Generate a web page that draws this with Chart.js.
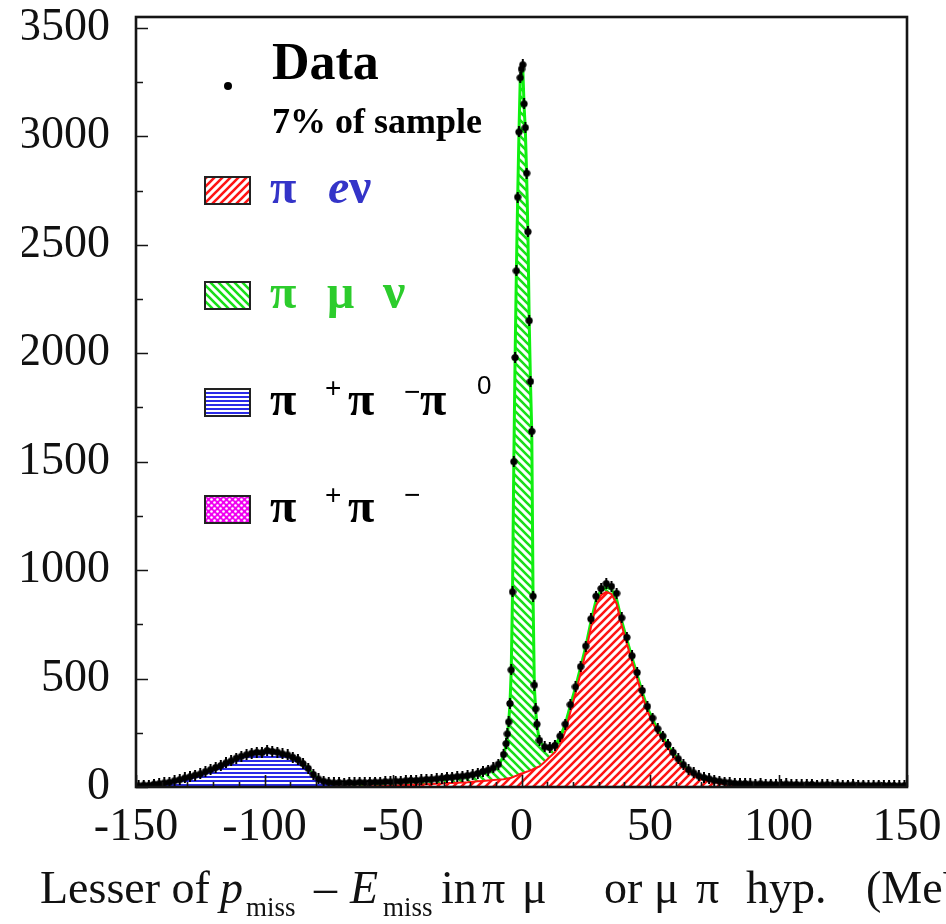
<!DOCTYPE html>
<html>
<head>
<meta charset="utf-8">
<script src="https://cdn.jsdelivr.net/npm/chart.js@4.4.1/dist/chart.umd.min.js"></script>
<style>
  html, body { margin: 0; padding: 0; background: #ffffff; }
  #wrap { width: 946px; height: 924px; }
</style>
</head>
<body>
<div id="wrap"><canvas id="chart" width="946" height="924"></canvas></div>
<script>
// Bin centres (MeV): 2 MeV bins on both sides, 0.5 MeV bins across the narrow peak.
const binsLeft = [
  -149,-147,-145,-143,-141,-139,-137,-135,-133,-131,
  -129,-127,-125,-123,-121,-119,-117,-115,-113,-111,
  -109,-107,-105,-103,-101,-99,-97,-95,-93,-91,
  -89,-87,-85,-83,-81,-79,-77,-75,-73,-71,
  -69,-67,-65,-63,-61,-59,-57,-55,-53,-51,
  -49,-47,-45,-43,-41,-39,-37,-35,-33,-31,
  -29,-27,-25,-23,-21,-19,-17,-15,-13,-11,
  -9,-7
];
const binsPeak = [
  -6,-5.5,-5,-4.5,-4,-3.5,-3,-2.5,-2,-1.5,
  -1,-0.5,0,0.5,1,1.5,2,2.5,3,3.5,
  4,4.5,5,5.5,6
];
const binsRight = [
  7,9,11,13,15,17,19,21,23,25,
  27,29,31,33,35,37,39,41,43,45,
  47,49,51,53,55,57,59,61,63,65,
  67,69,71,73,75,77,79,81,83,85,
  87,89,91,93,95,97,99,101,103,105,
  107,109,111,113,115,117,119,121,123,125,
  127,129,131,133,135,137,139,141,143,145,
  147,149
];
const binCenters = binsLeft.concat(binsPeak, binsRight);

// Observed events per bin
const dataCounts = [
  6,9,8,13,15,19,22,29,34,42,
  47,55,60,71,80,90,99,111,120,133,
  142,149,156,160,158,168,164,161,153,148,
  137,126,108,86,58,37,27,22,19,20,
  18,21,19,22,20,21,23,22,25,24,
  27,26,29,31,30,33,35,36,38,41,
  44,45,48,50,53,57,63,72,78,88,
  105,150,
  200,245,300,385,540,900,1500,1980,2380,2720,
  3020,3270,3310,3330,3150,3040,2830,2560,2150,1870,
  1640,880,470,360,290,
  215,185,182,192,235,290,380,462,555,650,
  775,880,915,938,925,893,780,690,605,528,
  445,372,318,268,235,196,160,130,103,80,
  65,51,43,38,31,27,23,20,17,15,
  16,14,13,15,12,13,11,12,14,11,
  12,10,11,12,9,10,11,9,10,8,
  9,10,8,9,7,8,9,7,8,7,
  6,7
];

// Simulated components, stacked bottom to top
const pipipi0 = [
  3,5,6,8,10,13,16,20,25,31,
  36,43,50,59,68,78,88,99,110,121,
  131,139,145,150,153,155,154,151,145,138,
  128,115,98,75,48,26,14,8,5,3,
  2,2,1,1,1,1,0,0,0,0,
  0,0,0,0,0,0,0,0,0,0,
  0,0,0,0,0,0,0,0,0,0,
  0,0,
  0,0,0,0,0,0,0,0,0,0,
  0,0,0,0,0,0,0,0,0,0,
  0,0,0,0,0,
  0,0,0,0,0,0,0,0,0,0,
  0,0,0,0,0,0,0,0,0,0,
  0,0,0,0,0,0,0,0,0,0,
  0,0,0,0,0,0,0,0,0,0,
  0,0,0,0,0,0,0,0,0,0,
  0,0,0,0,0,0,0,0,0,0,
  0,0,0,0,0,0,0,0,0,0,
  0,0
];
const pienu = [
  0,0,0,0,0,0,0,0,0,0,
  0,0,0,0,0,0,0,0,0,0,
  0,0,0,0,0,0,0,0,0,0,
  0,0,0,0,0,0,0,0,0,0,
  0,0,0,0,1,2,3,4,5,6,
  7,8,9,10,11,12,13,14,15,16,
  18,19,20,21,22,24,26,28,30,32,
  34,36,
  38,39,40,42,43,45,47,50,52,55,
  58,60,62,64,66,68,70,72,74,77,
  79,82,84,87,90,
  95,115,138,160,195,255,345,430,525,620,
  735,835,885,900,890,845,745,660,578,500,
  420,350,298,250,218,180,147,118,92,70,
  55,42,34,28,22,17,13,10,7,5,
  4,3,2,2,1,1,1,0,0,0,
  0,0,0,0,0,0,0,0,0,0,
  0,0,0,0,0,0,0,0,0,0,
  0,0
];
const pimunu = [
  2,2,3,3,4,4,5,5,6,6,
  6,7,7,7,7,7,7,8,8,8,
  8,8,8,8,8,8,8,8,8,8,
  8,8,8,9,9,10,11,12,13,14,
  14,15,15,16,16,16,17,17,17,17,
  18,18,19,20,20,21,22,22,23,24,
  25,26,27,28,29,31,34,39,45,52,
  65,105,
  158,202,256,338,490,845,1440,1920,2320,2655,
  2950,3200,3240,3250,3075,2960,2750,2480,2070,1785,
  1555,790,380,268,195,
  115,70,42,30,36,32,30,28,27,26,
  25,25,24,23,22,21,20,19,18,17,
  16,15,14,13,12,11,10,10,9,9,
  8,8,8,8,9,9,9,9,9,9,
  9,9,9,9,9,9,9,9,9,9,
  9,9,8,8,8,8,8,8,8,8,
  8,7,7,7,7,7,7,7,7,7,
  6,6
];
const pipi = [
  1,1,1,1,1,1,1,2,2,2,
  2,2,2,2,3,3,3,3,3,3,
  3,3,3,3,3,3,3,3,3,3,
  3,3,3,2,2,1,1,1,1,1,
  1,1,1,1,1,1,1,1,1,1,
  1,1,1,1,1,1,1,1,1,1,
  1,1,1,1,1,1,1,1,1,1,
  1,2,
  2,2,3,3,4,5,6,7,8,9,
  10,10,10,10,10,9,8,7,6,5,
  4,3,3,2,2,
  2,1,1,1,1,1,1,1,1,1,
  1,1,1,1,1,1,1,1,1,1,
  0,0,0,0,0,0,0,0,0,0,
  0,0,0,0,0,0,0,0,0,0,
  0,0,0,0,0,0,0,0,0,0,
  0,0,0,0,0,0,0,0,0,0,
  0,0,0,0,0,0,0,0,0,0,
  0,0
];

const xTickValues = [-150, -100, -50, 0, 50, 100, 150];
const yTickValues = [0, 500, 1000, 1500, 2000, 2500, 3000, 3500];

const SERIF = '"Liberation Serif", "Times New Roman", serif';
const SANS = '"Liberation Sans", Arial, sans-serif';
const RED = '#ff1414';
const GREEN = '#18e018';
const BLUE = '#2b2be8';
const MAGENTA = '#f000f0';
const BLUE_TEXT = '#3434c8';
const GREEN_TEXT = '#2ccc2c';

// Fill patterns
function stripePattern(color, dir) {
  const s = 8;
  const c = document.createElement('canvas');
  c.width = s; c.height = s;
  const g = c.getContext('2d');
  g.fillStyle = '#ffffff';
  g.fillRect(0, 0, s, s);
  g.strokeStyle = color;
  g.lineWidth = 2.6;
  g.beginPath();
  if (dir === 'up') {
    g.moveTo(-2, s + 2); g.lineTo(s + 2, -2);
    g.moveTo(-2, 2); g.lineTo(2, -2);
    g.moveTo(s - 2, s + 2); g.lineTo(s + 2, s - 2);
  } else {
    g.moveTo(-2, -2); g.lineTo(s + 2, s + 2);
    g.moveTo(-2, s - 2); g.lineTo(2, s + 2);
    g.moveTo(s - 2, -2); g.lineTo(s + 2, 2);
  }
  g.stroke();
  return g.createPattern(c, 'repeat');
}
function rowPattern(color) {
  const c = document.createElement('canvas');
  c.width = 4; c.height = 4;
  const g = c.getContext('2d');
  g.fillStyle = '#ffffff';
  g.fillRect(0, 0, 4, 4);
  g.fillStyle = color;
  g.fillRect(0, 0, 4, 2);
  return g.createPattern(c, 'repeat');
}
function dotPattern(color) {
  const c = document.createElement('canvas');
  c.width = 6; c.height = 6;
  const g = c.getContext('2d');
  g.fillStyle = color;
  g.fillRect(0, 0, 6, 6);
  g.fillStyle = '#ffffff';
  g.beginPath(); g.arc(1.5, 1.5, 1.3, 0, Math.PI * 2); g.fill();
  g.beginPath(); g.arc(4.5, 4.5, 1.3, 0, Math.PI * 2); g.fill();
  return g.createPattern(c, 'repeat');
}
const patRed = stripePattern(RED, 'up');
const patGreen = stripePattern(GREEN, 'down');
const patBlue = rowPattern(BLUE);
const patMagenta = dotPattern(MAGENTA);

// Data marker: a dot with a short vertical bar
function dataMarker() {
  const c = document.createElement('canvas');
  c.width = 8; c.height = 11;
  const g = c.getContext('2d');
  g.fillStyle = '#000';
  g.beginPath(); g.arc(4, 5.5, 3.6, 0, Math.PI * 2); g.fill();
  g.fillRect(3, 0, 2, 11);
  return c;
}

const toPoints = vals => binCenters.map((x, i) => ({ x: x, y: vals[i] }));

// Frame with inward major/minor tick marks
const framePlugin = {
  id: 'frame',
  afterDatasetsDraw(chart) {
    const { ctx, chartArea: a, scales } = chart;
    ctx.save();
    ctx.strokeStyle = '#151515';
    ctx.lineWidth = 1.6;
    ctx.beginPath();
    for (let v = 0; v <= 3500; v += 250) {
      const y = Math.round(scales.y.getPixelForValue(v)) + 0.5;
      const len = v % 500 === 0 ? 12 : 7;
      ctx.moveTo(a.left, y); ctx.lineTo(a.left + len, y);
    }
    for (let v = -150; v <= 150; v += 10) {
      const x = Math.round(scales.x.getPixelForValue(v)) + 0.5;
      const len = v % 50 === 0 ? 12 : 5;
      ctx.moveTo(x, a.bottom); ctx.lineTo(x, a.bottom - len);
    }
    ctx.stroke();
    ctx.lineWidth = 2.6;
    ctx.strokeRect(a.left, a.top, a.right - a.left, a.bottom - a.top);
    ctx.restore();
  }
};

// Legend block inside the plot
const legendPlugin = {
  id: 'decayLegend',
  afterDraw(chart) {
    const ctx = chart.ctx;
    const ox = chart.chartArea.left;
    const oy = chart.chartArea.top;
    ctx.save();
    ctx.textBaseline = 'alphabetic';
    ctx.textAlign = 'left';
    ctx.fillStyle = '#000';
    ctx.beginPath(); ctx.arc(ox + 92, oy + 69, 4, 0, Math.PI * 2); ctx.fill();
    ctx.font = 'bold 52px ' + SERIF;
    ctx.fillText('Data', ox + 136, oy + 62);
    ctx.font = 'bold 36px ' + SERIF;
    ctx.fillText('7% of sample', ox + 136, oy + 116);

    const rows = [
      { fill: patRed, base: 186, parts: [
        { t: '\u03c0', x: 134, f: 'bold 48px ' + SERIF, c: BLUE_TEXT },
        { t: 'e', x: 192, f: 'italic bold 48px ' + SERIF, c: BLUE_TEXT },
        { t: '\u03bd', x: 213, f: 'bold 50px ' + SERIF, c: BLUE_TEXT } ] },
      { fill: patGreen, base: 291, parts: [
        { t: '\u03c0', x: 134, f: 'bold 48px ' + SERIF, c: GREEN_TEXT },
        { t: '\u03bc', x: 191, f: 'bold 48px ' + SERIF, c: GREEN_TEXT },
        { t: '\u03bd', x: 247, f: 'bold 50px ' + SERIF, c: GREEN_TEXT } ] },
      { fill: patBlue, base: 398, parts: [
        { t: '\u03c0', x: 134, f: 'bold 48px ' + SERIF, c: '#000' },
        { t: '+', x: 189, f: '28px ' + SANS, c: '#000', dy: -18 },
        { t: '\u03c0', x: 212, f: 'bold 48px ' + SERIF, c: '#000' },
        { t: '\u2212', x: 268, f: '28px ' + SANS, c: '#000', dy: -14 },
        { t: '\u03c0', x: 284, f: 'bold 48px ' + SERIF, c: '#000' },
        { t: '0', x: 341, f: '26px ' + SANS, c: '#000', dy: -21 } ] },
      { fill: patMagenta, base: 505, parts: [
        { t: '\u03c0', x: 134, f: 'bold 48px ' + SERIF, c: '#000' },
        { t: '+', x: 189, f: '28px ' + SANS, c: '#000', dy: -18 },
        { t: '\u03c0', x: 212, f: 'bold 48px ' + SERIF, c: '#000' },
        { t: '\u2212', x: 268, f: '28px ' + SANS, c: '#000', dy: -18 } ] }
    ];
    rows.forEach(r => {
      const bx = ox + 69, by = oy + r.base - 26, bw = 45, bh = 27;
      ctx.fillStyle = r.fill;
      ctx.fillRect(bx, by, bw, bh);
      ctx.strokeStyle = '#222';
      ctx.lineWidth = 2;
      ctx.strokeRect(bx, by, bw, bh);
      r.parts.forEach(p => {
        ctx.font = p.f;
        ctx.fillStyle = p.c;
        ctx.fillText(p.t, ox + p.x, oy + r.base + (p.dy || 0));
      });
    });
    ctx.restore();
  }
};

// Axis title under the x axis, with subscripts
const xTitlePlugin = {
  id: 'xTitle',
  afterDraw(chart) {
    const ctx = chart.ctx;
    const base = 903;
    const main = '46px ' + SERIF;
    const ital = 'italic 46px ' + SERIF;
    const sub = '27px ' + SERIF;
    const parts = [
      { t: 'Lesser of', x: 40, f: main },
      { t: 'p', x: 220, f: ital },
      { t: 'miss', x: 246, f: sub, dy: 13 },
      { t: '\u2013', x: 314, f: main },
      { t: 'E', x: 350, f: ital },
      { t: 'miss', x: 383, f: sub, dy: 13 },
      { t: 'in', x: 441, f: main },
      { t: '\u03c0', x: 482, f: main },
      { t: '\u03bc', x: 522, f: main },
      { t: 'or', x: 604, f: main },
      { t: '\u03bc', x: 654, f: main },
      { t: '\u03c0', x: 696, f: main },
      { t: 'hyp.', x: 746, f: main },
      { t: '(MeV)', x: 866, f: main }
    ];
    ctx.save();
    ctx.fillStyle = '#111';
    ctx.textBaseline = 'alphabetic';
    ctx.textAlign = 'left';
    parts.forEach(p => {
      ctx.font = p.f;
      ctx.fillText(p.t, p.x, base + (p.dy || 0));
    });
    ctx.restore();
  }
};

const tickFont = { family: SERIF, size: 46 };

new Chart(document.getElementById('chart'), {
  type: 'line',
  data: {
    datasets: [
      { label: 'Data', data: toPoints(dataCounts), stack: 'data', showLine: false,
        pointStyle: dataMarker(), pointRadius: 4, fill: false },
      { label: '\u03c0+\u03c0\u2212\u03c00', data: toPoints(pipipi0), stack: 'mc', fill: 'origin',
        backgroundColor: patBlue, borderColor: BLUE, borderWidth: 1.5, pointRadius: 0 },
      { label: '\u03c0e\u03bd', data: toPoints(pienu), stack: 'mc', fill: '-1',
        backgroundColor: patRed, borderColor: RED, borderWidth: 2, pointRadius: 0 },
      { label: '\u03c0\u03bc\u03bd', data: toPoints(pimunu), stack: 'mc', fill: '-1',
        backgroundColor: patGreen, borderColor: '#10f010', borderWidth: 3, pointRadius: 0 },
      { label: '\u03c0+\u03c0\u2212', data: toPoints(pipi), stack: 'mc', fill: '-1',
        backgroundColor: patMagenta, borderColor: MAGENTA, borderWidth: 1, pointRadius: 0 }
    ]
  },
  options: {
    responsive: false,
    animation: false,
    devicePixelRatio: 1,
    layout: { padding: { left: 22, right: 39, top: 17, bottom: 77 } },
    elements: { line: { tension: 0 } },
    plugins: { legend: { display: false }, tooltip: { enabled: false } },
    scales: {
      x: {
        type: 'linear', min: -150, max: 150,
        afterBuildTicks: s => { s.ticks = xTickValues.map(v => ({ value: v })); },
        afterFit: s => { s.height = 60; s.paddingLeft = 0; s.paddingRight = 0; },
        ticks: { font: tickFont, color: '#111', padding: 13, maxRotation: 0, autoSkip: false,
                 callback: v => String(v) },
        grid: { display: false, drawTicks: false },
        border: { display: false }
      },
      y: {
        stacked: true, min: 0, max: 3550,
        afterBuildTicks: s => { s.ticks = yTickValues.map(v => ({ value: v })); },
        afterFit: s => { s.width = 114; s.paddingTop = 0; s.paddingBottom = 0; },
        ticks: { font: tickFont, color: '#111', padding: 26, callback: v => String(v) },
        grid: { display: false, drawTicks: false },
        border: { display: false }
      }
    }
  },
  plugins: [framePlugin, legendPlugin, xTitlePlugin]
});
</script>
</body>
</html>
